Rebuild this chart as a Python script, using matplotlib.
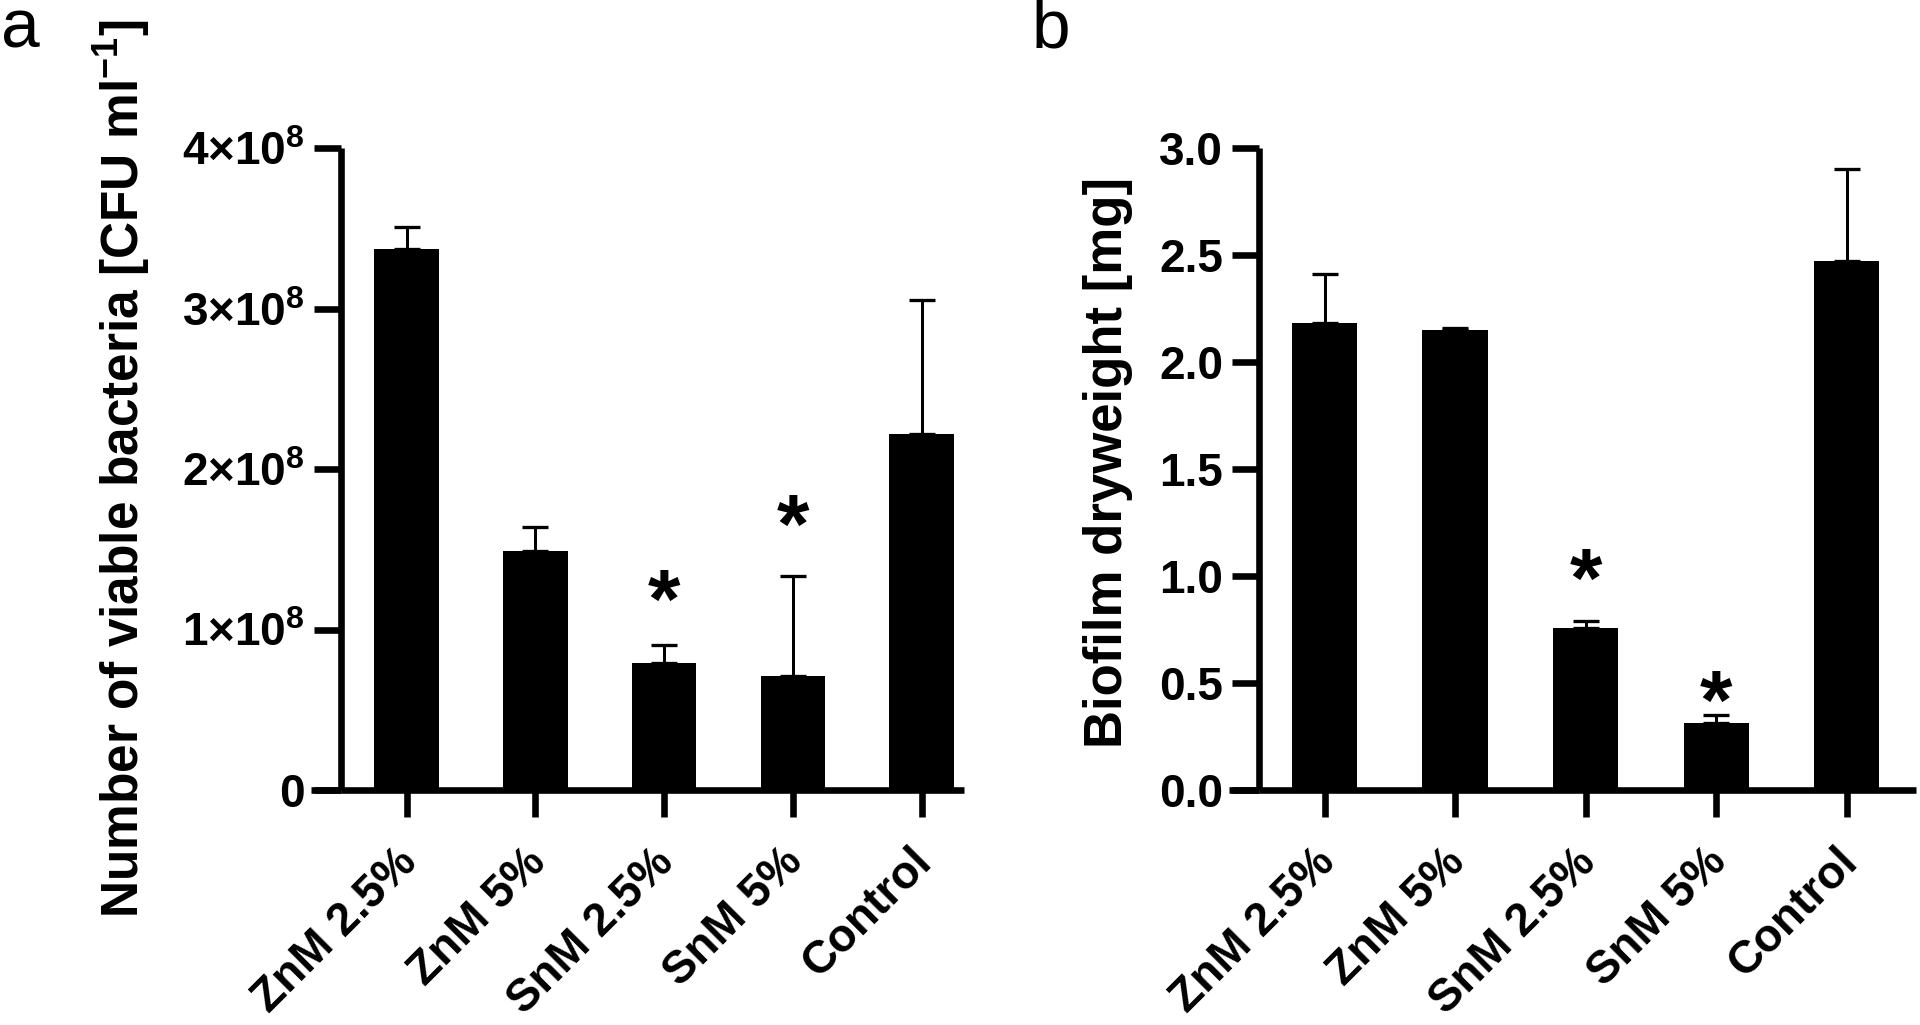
import matplotlib
matplotlib.use("Agg")
import matplotlib.pyplot as plt
from matplotlib.textpath import TextPath
from matplotlib.font_manager import FontProperties
from matplotlib.transforms import ScaledTranslation

# ---------------- data ----------------
categories = ["ZnM 2.5%", "ZnM 5%", "SnM 2.5%", "SnM 5%", "Control"]

cfu_mean = [3.37e8, 1.49e8, 0.79e8, 0.71e8, 2.22e8]
cfu_err = [0.14e8, 0.15e8, 0.115e8, 0.625e8, 0.83e8]
cfu_star_y = [None, None, 1.27e8, 1.735e8, None]
cfu_ticks = [0, 1e8, 2e8, 3e8, 4e8]
cfu_ticklabels = ["0", r"$1{\times}10^{8}$", r"$2{\times}10^{8}$",
                  r"$3{\times}10^{8}$", r"$4{\times}10^{8}$"]

dw_mean = [2.18, 2.15, 0.755, 0.314, 2.47]
dw_err = [0.23, 0.01, 0.033, 0.038, 0.43]
dw_star_y = [None, None, 1.05, 0.483, None]
dw_ticks = [0.0, 0.5, 1.0, 1.5, 2.0, 2.5, 3.0]
dw_ticklabels = ["0.0", "0.5", "1.0", "1.5", "2.0", "2.5", "3.0"]

# ---------------- fonts ----------------
plt.rcParams["font.family"] = ["Liberation Sans", "DejaVu Sans"]
plt.rcParams["mathtext.fontset"] = "custom"
plt.rcParams["mathtext.rm"] = "Liberation Sans:bold"
plt.rcParams["mathtext.it"] = "Liberation Sans:bold"
plt.rcParams["mathtext.bf"] = "Liberation Sans:bold"

W, H = 1920, 1025
DPI = 100
fig = plt.figure(figsize=(W / DPI, H / DPI), dpi=DPI)

PX = 72 / DPI  # points per pixel
LW = 6.6 * PX
TICK_LEN = 27 * PX
TICK_FS = 33
XLAB_FS = 33

# asterisk geometry (ink centred on the given value)
star_prop = FontProperties(family="Liberation Sans", weight="bold")
_tp = TextPath((0, 0), "*", size=1, prop=star_prop)
_ext = _tp.get_extents()
STAR_FS = (31 * PX) / _ext.height
STAR_CX = (_ext.x0 + _ext.x1) / 2 * STAR_FS
STAR_CY = (_ext.y0 + _ext.y1) / 2 * STAR_FS


def make_panel(rect, means, errs, star_y, ticks, ticklabels, ylim, xlim, ylabel,
               label_xy, label_fs):
    ax = fig.add_axes(rect)
    x = list(range(len(categories)))
    ax.bar(x, means, width=0.5, color="black", edgecolor="none", zorder=2)
    ax.errorbar(x, means, yerr=[[0] * len(errs), errs], fmt="none", ecolor="black",
                elinewidth=3 * PX, capsize=13 * PX, capthick=3.3 * PX, zorder=1)
    for xi, sy in zip(x, star_y):
        if sy is not None:
            ax.annotate("*", xy=(xi, sy), xytext=(-STAR_CX, -STAR_CY),
                        textcoords="offset points", ha="left", va="baseline",
                        fontsize=STAR_FS, fontproperties=star_prop)
    ax.set_xlim(*xlim)
    ax.set_ylim(*ylim)
    ax.spines[["top", "right"]].set_visible(False)
    for s in ("left", "bottom"):
        ax.spines[s].set_linewidth(LW)
        ax.spines[s].set_capstyle("butt")
    ax.set_yticks(ticks)
    ax.set_yticklabels(ticklabels, fontsize=TICK_FS, fontweight="bold")
    ax.set_xticks(x)
    ax.set_xticklabels(categories, rotation=45, ha="right", va="baseline",
                       rotation_mode="anchor", fontsize=XLAB_FS, fontweight="bold")
    ax.tick_params(axis="both", direction="out", length=TICK_LEN, width=LW)
    ax.tick_params(axis="y", pad=9 * PX)
    ax.tick_params(axis="x", pad=(74 - 27) * PX)
    shift = ScaledTranslation(12 / DPI, 0, fig.dpi_scale_trans)
    for lbl in ax.get_xticklabels():
        lbl.set_transform(lbl.get_transform() + shift)
    # GraphPad-style: x axis extends left under the y ticks
    ext = (27 + 3) / (rect[2] * W)
    ax.plot([-ext, 0], [0, 0], transform=ax.transAxes, color="black", lw=LW,
            solid_capstyle="butt", clip_on=False)
    ax.set_ylabel(ylabel, fontsize=label_fs, fontweight="bold", va="center")
    ax.yaxis.set_label_coords(*label_xy)
    return ax


y0, y1 = 790, 148
bottom = 1 - y0 / H
height = (y0 - y1) / H

axa = make_panel([341 / W, bottom, (964 - 341) / W, height], cfu_mean, cfu_err, cfu_star_y,
                 cfu_ticks, cfu_ticklabels, (0, 4e8), (-0.51, 4.33),
                 r"Number of viable bacteria [CFU ml$\mathbf{^{-1}}$]", (-0.351, 0.50), 37)
axb = make_panel([1259 / W, bottom, (1916 - 1259) / W, height], dw_mean, dw_err, dw_star_y,
                 dw_ticks, dw_ticklabels, (0, 3.0), (-0.502, 4.53),
                 "Biofilm dryweight [mg]", (-0.23, 0.51), 38)

fig.text(1 / W, 1 - 47 / H, "a", fontsize=50, ha="left", va="baseline")
fig.text(1032 / W, 1 - 47 / H, "b", fontsize=50, ha="left", va="baseline")

fig.savefig("out.png", dpi=DPI, facecolor="white")
